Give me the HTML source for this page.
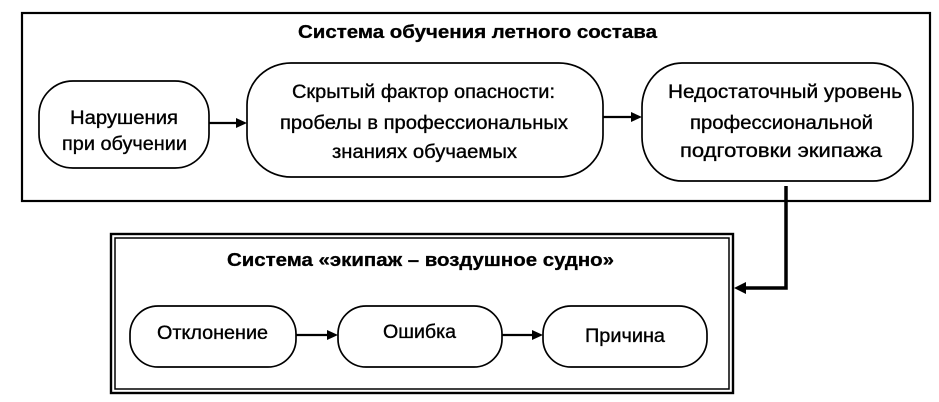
<!DOCTYPE html>
<html>
<head>
<meta charset="utf-8">
<style>
  html, body { margin: 0; padding: 0; background: #fff; }
  svg { display: block; }
  text { font-family: "Liberation Sans", Arial, sans-serif; fill: #000; }
  .t { font-size: 19px; stroke: #000; stroke-width: 0.35px; }
  .b { font-size: 18px; font-weight: bold; stroke: #000; stroke-width: 0.3px; }
</style>
</head>
<body>
<svg width="939" height="402" viewBox="0 0 939 402" xmlns="http://www.w3.org/2000/svg">
  <rect x="0" y="0" width="939" height="402" fill="#fff"/>

  <!-- Top system box -->
  <rect x="22" y="13" width="908" height="188" fill="none" stroke="#000" stroke-width="2.2"/>
  <text class="b" x="298" y="38" textLength="359" lengthAdjust="spacingAndGlyphs">Система обучения летного состава</text>

  <!-- Node 1 -->
  <rect x="39" y="81" width="170" height="87" rx="34" ry="34" fill="none" stroke="#000" stroke-width="1.7"/>
  <text class="t" x="70" y="124" textLength="108" lengthAdjust="spacingAndGlyphs">Нарушения</text>
  <text class="t" x="62" y="150" textLength="125" lengthAdjust="spacingAndGlyphs">при обучении</text>

  <!-- Node 2 -->
  <rect x="247" y="63" width="356" height="114" rx="44" ry="42" fill="none" stroke="#000" stroke-width="1.7"/>
  <text class="t" x="292" y="98" textLength="263" lengthAdjust="spacingAndGlyphs">Скрытый фактор опасности:</text>
  <text class="t" x="280" y="129" textLength="288" lengthAdjust="spacingAndGlyphs">пробелы в профессиональных</text>
  <text class="t" x="332" y="158" textLength="185" lengthAdjust="spacingAndGlyphs">знаниях обучаемых</text>

  <!-- Node 3 -->
  <rect x="642" y="63" width="271" height="118" rx="40" ry="44" fill="none" stroke="#000" stroke-width="1.7"/>
  <text class="t" x="668" y="98" textLength="234" lengthAdjust="spacingAndGlyphs">Недостаточный уровень</text>
  <text class="t" x="690" y="129" textLength="183" lengthAdjust="spacingAndGlyphs">профессиональной</text>
  <text class="t" x="680" y="157" textLength="202" lengthAdjust="spacingAndGlyphs">подготовки экипажа</text>

  <!-- Arrows top -->
  <line x1="209" y1="123" x2="237" y2="123" stroke="#000" stroke-width="2.2"/>
  <polygon points="247,123 236,118 236,128" fill="#000"/>
  <line x1="603" y1="117" x2="632" y2="117" stroke="#000" stroke-width="2.2"/>
  <polygon points="642,117 631,112 631,122" fill="#000"/>

  <!-- Connector to bottom box -->
  <path d="M786 186 V288 H744" fill="none" stroke="#000" stroke-width="3.5"/>
  <polygon points="734,288 746,282 746,294" fill="#000"/>

  <!-- Bottom system box (double border) -->
  <rect x="111" y="234" width="622" height="159" fill="none" stroke="#000" stroke-width="2.4"/>
  <rect x="115" y="238" width="614" height="151" fill="none" stroke="#000" stroke-width="1.5"/>
  <text class="b" x="227" y="266" textLength="387" lengthAdjust="spacingAndGlyphs">Система «экипаж – воздушное судно»</text>

  <!-- Bottom nodes -->
  <rect x="130" y="306" width="166" height="61" rx="28" ry="28" fill="none" stroke="#000" stroke-width="1.7"/>
  <text class="t" x="157" y="339" textLength="111" lengthAdjust="spacingAndGlyphs">Отклонение</text>

  <rect x="338" y="306" width="164" height="61" rx="28" ry="28" fill="none" stroke="#000" stroke-width="1.7"/>
  <text class="t" x="383" y="338" textLength="73" lengthAdjust="spacingAndGlyphs">Ошибка</text>

  <rect x="543" y="306" width="164" height="61" rx="28" ry="28" fill="none" stroke="#000" stroke-width="1.7"/>
  <text class="t" x="585" y="342" textLength="80" lengthAdjust="spacingAndGlyphs">Причина</text>

  <!-- Bottom arrows -->
  <line x1="296" y1="335" x2="328" y2="335" stroke="#000" stroke-width="2.2"/>
  <polygon points="338,335 327,330 327,340" fill="#000"/>
  <line x1="502" y1="335" x2="533" y2="335" stroke="#000" stroke-width="2.2"/>
  <polygon points="543,335 532,330 532,340" fill="#000"/>
</svg>
</body>
</html>
